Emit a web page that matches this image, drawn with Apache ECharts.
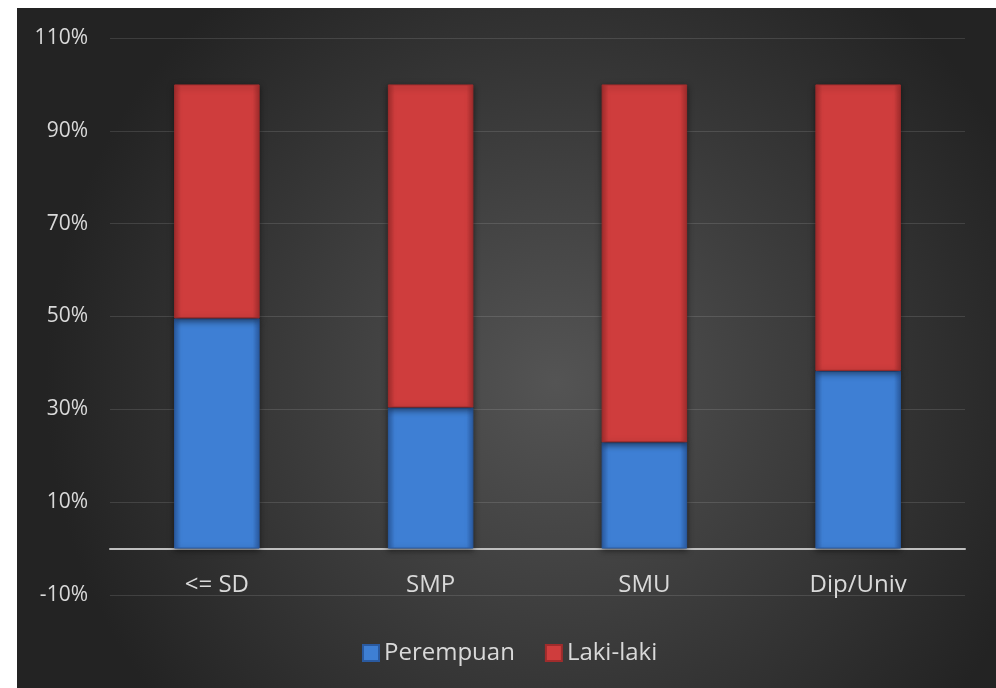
<!DOCTYPE html>
<html>
<head>
<meta charset="utf-8">
<script src="https://cdn.jsdelivr.net/npm/echarts@6/dist/echarts.min.js"></script>
<style>
html,body{margin:0;padding:0;background:#ffffff;width:996px;height:688px;overflow:hidden;}
#chart{position:absolute;left:17px;top:8px;width:979px;height:680px;}
</style>
</head>
<body>
<div id="chart"></div>
<script>
const categories = ['<= SD', 'SMP', 'SMU', 'Dip/Univ'];
const perempuan = [49.6, 30.4, 22.9, 38.3];
const lakiLaki = [50.4, 69.6, 77.1, 61.7];
const seriesNames = ['Perempuan', 'Laki-laki'];

const chart = echarts.init(document.getElementById('chart'));
const font = 'Open Sans';
function hGrad(edge, mid) {
  return new echarts.graphic.LinearGradient(0, 0, 1, 0, [
    {offset: 0, color: edge}, {offset: 0.08, color: mid}, {offset: 0.92, color: mid}, {offset: 1, color: edge}
  ]);
}
chart.setOption({
  backgroundColor: new echarts.graphic.RadialGradient(0.55, 0.55, 0.75, [
    {offset: 0, color: '#545454'}, {offset: 1, color: '#232323'}
  ]),
  animation: false,
  grid: {left: 93, right: 31, top: 30, bottom: 93, containLabel: false},
  legend: {
    left: 340, top: 628,
    itemWidth: 16, itemHeight: 16, itemGap: 30,
    textStyle: {color: '#d9d9d9', fontSize: 24, fontFamily: font},
    data: [{name: seriesNames[0], icon: 'rect'}, {name: seriesNames[1], icon: 'rect'}]
  },
  xAxis: {
    type: 'category', data: categories,
    axisLine: {onZero: true, lineStyle: {color: '#bfbfbf', width: 2}},
    axisTick: {show: false},
    axisLabel: {color: '#d9d9d9', fontSize: 24, fontFamily: font, margin: -22}
  },
  yAxis: {
    type: 'value', min: -10, max: 110, interval: 20,
    axisLine: {show: false}, axisTick: {show: false},
    splitLine: {lineStyle: {color: 'rgba(255,255,255,0.12)', width: 1}},
    axisLabel: {color: '#d9d9d9', fontSize: 21, fontFamily: font, margin: 22, formatter: '{value}%'}
  },
  series: [
    {
      name: seriesNames[0], type: 'bar', stack: 'total', data: perempuan,
      barWidth: '40%',
      itemStyle: {color: hGrad('#2c5fa8', '#3e7fd4'), borderColor: '#2a5aa0', borderWidth: 1,
        shadowColor: 'rgba(0,0,0,0.5)', shadowBlur: 6, shadowOffsetY: 2}
    },
    {
      name: seriesNames[1], type: 'bar', stack: 'total', data: lakiLaki,
      barWidth: '40%',
      itemStyle: {color: hGrad('#a82e2e', '#cf3d3d'), borderColor: '#a02c2c', borderWidth: 1,
        shadowColor: 'rgba(0,0,0,0.5)', shadowBlur: 6, shadowOffsetY: 2}
    }
  ]
});
</script>
</body>
</html>
